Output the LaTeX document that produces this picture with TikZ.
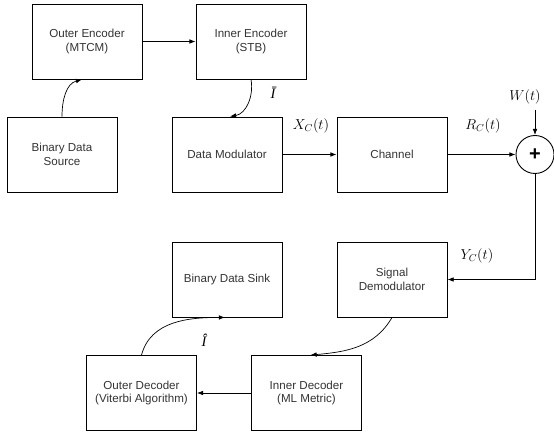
\documentclass[tikz,border=0pt]{standalone}
\usepackage{fontspec}
\setmainfont{Liberation Sans}
\newfontfamily\symfont{Liberation Serif}
\usepackage{amsmath}
\usetikzlibrary{arrows.meta,positioning,calc}

\begin{document}
\begin{tikzpicture}[x=1pt,y=-1pt,>=Latex,
  font=\fontsize{11.6}{13.5}\selectfont,
  blk/.style={draw,line width=0.9pt,minimum width=110pt,minimum height=75pt,inner sep=2pt,align=center,text=black!80},
  flow/.style={->,line width=0.7pt},
  lbl/.style={font=\fontsize{14.5}{16}\selectfont}]
 \useasboundingbox (0,0) rectangle (554,438);
 % transmitter
 \node[blk] (oe) at (87,41.5) {Outer Encoder\\(MTCM)};
 \node[blk] (ie) at (251,41.5) {Inner Encoder\\(STB)};
 \node[blk] (src) at (62,154.5) {Binary Data\\Source};
 \node[blk] (dm) at (227,154.5) {Data Modulator};
 \node[blk] (ch) at (392,154.5) {Channel};
 \node[draw,circle,line width=0.9pt,minimum size=38pt,inner sep=0pt,font=\fontsize{20}{20}\bfseries] (sum) at (535,154.5) {+};
 \coordinate (w) at (535,110);
 \draw[flow] (src.north) to[out=90,in=195] ([xshift=-5pt]oe.south);
 \draw[flow] (oe.east) -- (ie.west);
 \draw[flow] (ie.south) to[out=-80,in=10] ([xshift=3pt]dm.north);
 \draw[flow] (dm.east) -- (ch.west);
 \draw[flow] (ch.east) -- (sum.west);
 \draw[flow] (w) -- (sum.north);
 % receiver
 \node[blk] (sd) at (392,279.5) {Signal\\Demodulator};
 \node[blk] (bds) at (227,279.5) {Binary Data Sink};
 \node[blk] (id) at (306.5,393) {Inner Decoder\\(ML Metric)};
 \node[blk] (od) at (141.5,393) {Outer Decoder\\(Viterbi Algorithm)};
 \draw[flow] (sum.south) |- (sd.east);
 \draw[flow] (sd.south) to[out=-120,in=5] ([xshift=4pt]id.north);
 \draw[flow] (id.west) -- (od.west -| od.east);
 \draw[flow] (od.north) to[out=75,in=180] ([xshift=-2pt]bds.south);
 % signal labels
 \node[lbl] (ibar) at (273,93) {\symfont\itshape Ī};
 \node[lbl] (xc) at (311,126) {$X_C(t)$};
 \node[lbl] (rc) at (483,126) {$R_C(t)$};
 \node[lbl] (wt) at (525,97) {$W(t)$};
 \node[lbl] (yc) at (477,256) {$Y_C(t)$};
 \node[lbl] (ihat) at (204,340) {\symfont\itshape Î};
\end{tikzpicture}
\end{document}
